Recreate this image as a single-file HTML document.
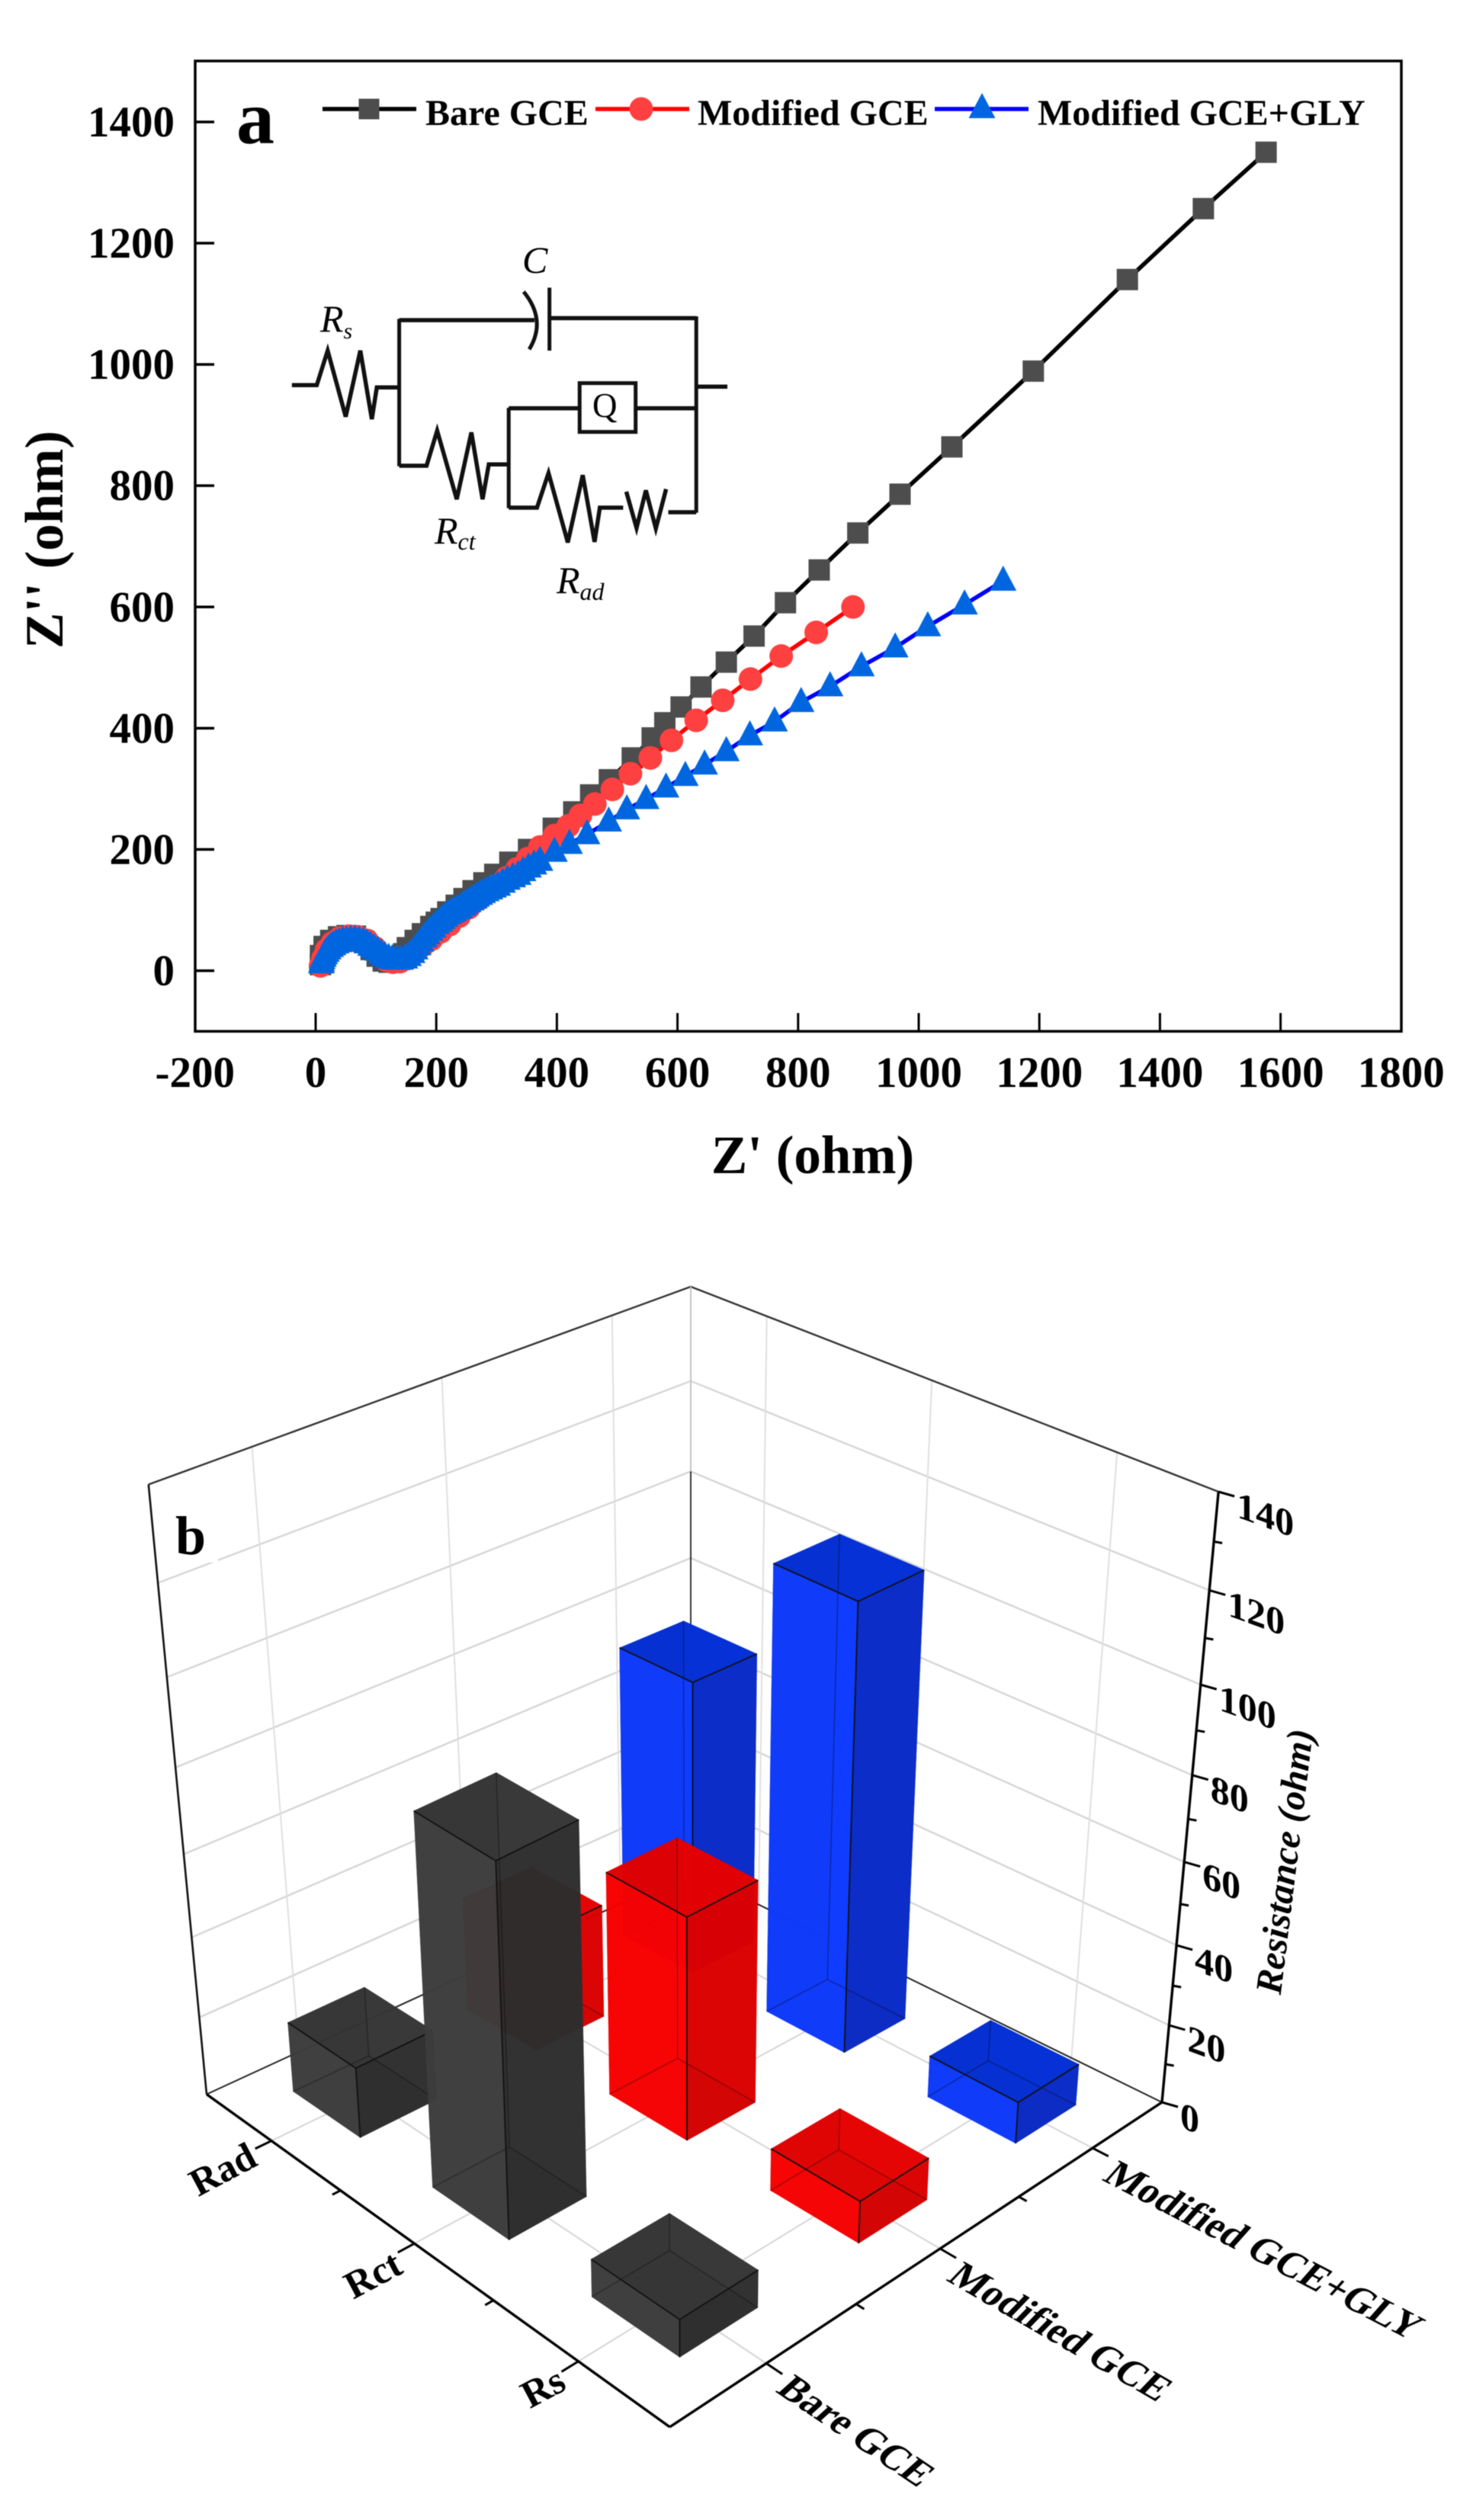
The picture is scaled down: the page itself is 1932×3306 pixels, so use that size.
<!DOCTYPE html>
<html lang="en">
<head>
<meta charset="utf-8">
<title>Nyquist plot and 3D resistance bars</title>
<style>
html,body{margin:0;padding:0;background:#fff}
svg{display:block;filter:blur(0.6px)}
text{font-family:"Liberation Serif",serif;fill:#000}
</style>
</head>
<body>
<svg id="chart" xmlns="http://www.w3.org/2000/svg" width="1932" height="3306" viewBox="0 0 1932 3306">
  <rect width="1932" height="3306" fill="#fff"/>
  <g id="panelA">
    <g id="aSeries"></g>
    <rect x="256" y="80" width="1582" height="1273" fill="none" stroke="#000" stroke-width="3.5"/>
    <g id="aTicks"></g>
    <text x="1066" y="1539" font-size="71" font-weight="bold" text-anchor="middle">Z' (ohm)</text>
    <text transform="translate(82,708) rotate(-90)" font-size="71" font-weight="bold" text-anchor="middle">Z'' (ohm)</text>
    <text x="310" y="188" font-size="100" font-weight="bold">a</text>
    <g>
      <g>
        <line x1="423" y1="143" x2="546" y2="143" stroke="#000" stroke-width="5.5"/>
        <rect x="470.500" y="129.500" width="27" height="27" fill="#4d4d4d"/>
        <text x="558" y="164" font-size="48" font-weight="bold">Bare GCE</text>
      </g>
      <g>
        <line x1="781" y1="143" x2="904" y2="143" stroke="#f00" stroke-width="5.5"/>
        <circle cx="841" cy="143" r="15.500" fill="#ff4040"/>
        <text x="915" y="164" font-size="48" font-weight="bold">Modified GCE</text>
      </g>
      <g>
        <line x1="1226" y1="143" x2="1349" y2="143" stroke="#00f" stroke-width="5.5"/>
        <polygon points="1288,122 1305.500,155 1270.500,155" fill="#0066e0"/>
        <text x="1361" y="164" font-size="48" font-weight="bold">Modified GCE+GLY</text>
      </g>
    </g>
    <g>
      <g transform="translate(340,280) scale(0.408,0.3333)" fill="none" stroke="#111">
        <path vector-effect="non-scaling-stroke" stroke-width="5.5" d="M105,676 H185 L220,540 L278,800 L325,540 L362,810 L378,685 H450"/>
        <path vector-effect="non-scaling-stroke" stroke-width="5" d="M450,415 V995"/>
        <path vector-effect="non-scaling-stroke" stroke-width="5.5" d="M450,420 H885"/>
        <path vector-effect="non-scaling-stroke" stroke-width="5" d="M850,308 Q925,420 868,535"/>
        <path vector-effect="non-scaling-stroke" stroke-width="5" d="M933,292 V540"/>
        <path vector-effect="non-scaling-stroke" stroke-width="5.5" d="M933,412 H1405"/>
        <path vector-effect="non-scaling-stroke" stroke-width="5" d="M1405,405 V1178"/>
        <path vector-effect="non-scaling-stroke" stroke-width="5.5" d="M1405,682 H1505"/>
        <path vector-effect="non-scaling-stroke" stroke-width="5.5" d="M450,993 H538 L572,855 L635,1125 L682,862 L718,1125 L738,988 H802"/>
        <path vector-effect="non-scaling-stroke" stroke-width="5" d="M802,765 V1160"/>
        <path vector-effect="non-scaling-stroke" stroke-width="5.5" d="M802,767 H1030"/>
        <rect vector-effect="non-scaling-stroke" stroke-width="5" x="1030" y="668" width="180" height="192"/>
        <path vector-effect="non-scaling-stroke" stroke-width="5.5" d="M1210,767 H1405"/>
        <path vector-effect="non-scaling-stroke" stroke-width="5.5" d="M802,1158 H893 L930,1022 L992,1295 L1040,1030 L1078,1293 L1095,1158 H1170"/>
        <path vector-effect="non-scaling-stroke" stroke-width="5.5" d="M1180,1095 L1213,1238 L1243,1090 L1275,1240 L1308,1085"/>
        <path vector-effect="non-scaling-stroke" stroke-width="5.5" d="M1315,1176 H1405"/>
      </g>
      <text x="685" y="358" font-size="50" font-style="italic">C</text>
      <text x="777" y="547" font-size="45">Q</text>
      <text x="420" y="435" font-size="50" font-style="italic">R<tspan font-size="30" dy="9">s</tspan></text>
      <text x="570" y="713" font-size="50" font-style="italic">R<tspan font-size="32" dy="8">ct</tspan></text>
      <text x="730" y="778" font-size="50" font-style="italic">R<tspan font-size="32" dy="9">ad</tspan></text>
    </g>
  </g>
  <g id="panelB">
    <g id="bWalls"></g>
    <rect x="228" y="1975" width="58" height="75" fill="#fff"/>
    <text x="230" y="2039" font-size="72" font-weight="bold">b</text>
    <g id="bBars"></g>
    <g id="bAxes"></g>
    <text transform="translate(1701,2444) rotate(-83)" font-size="49" font-weight="bold" font-style="italic" text-anchor="middle">Resistance (ohm)</text>
  </g>
</svg>
<script>
/* ---------- Panel a data ---------- */
const xTickLabels = [-200, 0, 200, 400, 600, 800, 1000, 1200, 1400, 1600, 1800];
const yTickLabels = [0, 200, 400, 600, 800, 1000, 1200, 1400];

const bareX = [8,8,14,25,38,52,66,80,92,102,112,122,134,146,152,165,177,191,200,208,219,233,246,261,279,297,322,353,394,428,456,487,525,558,579,606,639,681,727,779,835,899,969,1055,1190,1346,1472,1576];
const bareY = [10,25,40,50,56,58,57,48,35,24,16,14,18,28,38,50,61,73,80,86,97,108,119,132,145,159,179,200,235,262,290,315,351,384,409,435,468,509,552,607,661,722,786,864,989,1140,1257,1350];

const modifiedX = [8,12,18,28,40,55,70,85,98,108,118,128,140,152,165,178,192,207,222,238,254,270,286,300,316,334,352,372,396,419,439,463,492,522,555,590,631,675,721,772,830,891];
const modifiedY = [8,20,34,46,54,57,56,50,38,26,17,14,15,20,30,42,52,64,76,90,104,118,130,140,153,168,185,204,223,239,256,275,299,325,351,380,413,446,481,519,558,600];

const glyX = [9.5,10,11,13,15,18,21,25,29,34,39,45,51,58,65,72,79,85,91,97,103,109,115,121,127,134,141,148,154,160,165,170,175,180,185,190,195,201,206,210,215,220,225,229,234,239,244,248,253,258,263,267,272,277,283,289,295,302,310,318,327,336,344,353,362,372,396,421,450,486,516,548,581,613,645,681,720,761,805,853,905,961,1015,1076,1140];
const glyY = [12,15,19,23,27,31,35,39,42,45,47,49,50,51,51,50,48,45,41,37,33,28,24,21,19,18,18,20,24,29,35,42,48,55,60,66,71,77,81,85,89,93,96,98,101,103,107,110,113,116,119,122,125,128,131,134,137,140,145,150,154,158,164,170,175,181,196,209,225,246,266,283,302,321,340,362,388,411,443,469,502,533,568,604,643];

/* ---------- Panel b data ---------- */
const categories = ['Bare GCE', 'Modified GCE', 'Modified GCE+GLY'];
const resistances = ['Rs', 'Rct', 'Rad'];
const bareValues = [9.6, 90, 18];
const modifiedValues = [10.8, 55.7, 29];
const glyValues = [10.7, 108, 73];
const zTickLabels = [0, 20, 40, 60, 80, 100, 120, 140];

const SVGNS = 'http://www.w3.org/2000/svg';
function mk(tag, parent, attrs) {
  const el = document.createElementNS(SVGNS, tag);
  for (const k in attrs) el.setAttribute(k, attrs[k]);
  parent.appendChild(el);
  return el;
}

/* ---------- Panel a axes ---------- */
function ax(v) { return 414 + v * 0.791; }
function ay(v) { return 1273.5 - v * 0.7954; }

const aTicks = document.getElementById('aTicks');
xTickLabels.forEach(function (t) {
  const x = ax(t);
  if (t !== -200 && t !== 1800) {
    const l = mk('line', aTicks, { x1: x, x2: x, y1: 1353, y2: 1329, stroke: '#000', 'stroke-width': 3 });
    
    
  }
  const s = mk('text', aTicks, { x: x, y: 1426, 'font-size': 57, 'font-weight': 'bold', 'text-anchor': 'middle' });
  
  
  s.textContent = String(t);
});
yTickLabels.forEach(function (t) {
  const y = ay(t);
  const l = mk('line', aTicks, { x1: 256, x2: 281, y1: y, y2: y, stroke: '#000', 'stroke-width': 3.5 });
  
  
  const s = mk('text', aTicks, { x: 229, y: y + 19, 'font-size': 57, 'font-weight': 'bold', 'text-anchor': 'end' });
  
  
  s.textContent = String(t);
});

function drawLine(parent, xs, ys, color) {
  const pts = xs.map(function (v, i) { return ax(v) + ',' + ay(ys[i]); }).join(' ');
  return mk('polyline', parent, { points: pts, fill: 'none', stroke: color, 'stroke-width': 5.5, 'stroke-linejoin': 'round' });
}

const aSeries = document.getElementById('aSeries');

const bareGroup = mk('g', aSeries, {});


const bareLine = drawLine(bareGroup, bareX, bareY, '#000');


bareX.forEach(function (v, i) {
  const m = mk('rect', bareGroup, { x: ax(v) - 14, y: ay(bareY[i]) - 14, width: 28, height: 28, fill: '#4d4d4d' });
  
  
});

const modGroup = mk('g', aSeries, {});


const modLine = drawLine(modGroup, modifiedX, modifiedY, '#f00');


modifiedX.forEach(function (v, i) {
  const m = mk('circle', modGroup, { cx: ax(v), cy: ay(modifiedY[i]), r: 15.5, fill: '#ff4040' });
  
  
});

const glyGroup = mk('g', aSeries, {});


const glyLine = drawLine(glyGroup, glyX, glyY, '#00f');


glyX.forEach(function (v, i) {
  const x = ax(v), y = ay(glyY[i]);
  const m = mk('polygon', glyGroup, { points: x + ',' + (y - 20) + ' ' + (x + 17.5) + ',' + (y + 13) + ' ' + (x - 17.5) + ',' + (y + 13), fill: '#0066e0' });
  
  
});

/* ---------- Panel b projection ---------- */
const F = [878.5, 3184], R = [1524, 2758], B = [906, 2455], L = [271, 2747.5];
const dx1 = R[0] - B[0], dx2 = L[0] - B[0], sx = F[0] - R[0] + B[0] - L[0];
const dy1 = R[1] - B[1], dy2 = L[1] - B[1], sy = F[1] - R[1] + B[1] - L[1];
const det = dx1 * dy2 - dx2 * dy1;
const hg = (sx * dy2 - dx2 * sy) / det;
const hh = (dx1 * sy - sx * dy1) / det;
function floorPt(u, v) {
  const w = 1 + hg * u + hh * v;
  return [
    ((R[0] - F[0] + hg * R[0]) * u + (L[0] - F[0] + hh * L[0]) * v + F[0]) / w,
    ((R[1] - F[1] + hg * R[1]) * u + (L[1] - F[1] + hh * L[1]) * v + F[1]) / w
  ];
}
function zFrac(z) {
  const q = z / 140;
  return q / (1 + 0.155 * (1 - q));
}
function proj(u, v, z) {
  const p = floorPt(u, v);
  const f = zFrac(z);
  const k = 834 - 33 * u - 34 * v;
  return [p[0] + (p[0] - 906) * 0.12 * f, p[1] - k * f];
}
function segment(parent, a, b, color, width) {
  return mk('line', parent, { x1: a[0], y1: a[1], x2: b[0], y2: b[1], stroke: color, 'stroke-width': width });
}
function poly(parent, pts, fill, opacity) {
  return mk('polygon', parent, { points: pts.map(function (p) { return p[0] + ',' + p[1]; }).join(' '), fill: fill, 'fill-opacity': opacity });
}

/* Walls and grid */
const bWalls = document.getElementById('bWalls');
const gridPos = resistances.map(function (_, i) { return (i + 0.5) / resistances.length; });
zTickLabels.forEach(function (z) {
  if (z === 0 || z === 140) return;
  const a = segment(bWalls, proj(0, 1, z), proj(1, 1, z), '#d6d6d6', 2.4);
  
  
  const b = segment(bWalls, proj(1, 1, z), proj(1, 0, z), '#d6d6d6', 2.4);
  
  
});
gridPos.forEach(function (g) {
  const a = segment(bWalls, proj(g, 1, 0), proj(g, 1, 140), '#e0e0e0', 2);
  
  
  const b = segment(bWalls, proj(1, g, 0), proj(1, g, 140), '#e0e0e0', 2);
  
  
  const c = segment(bWalls, proj(g, 0, 0), proj(g, 1, 0), '#d6d6d6', 2);
  
  
  const d = segment(bWalls, proj(0, g, 0), proj(1, g, 0), '#d6d6d6', 2);
  
  
});
const topLeft = segment(bWalls, proj(0, 1, 140), proj(1, 1, 140), '#333', 2.4);


const topRight = segment(bWalls, proj(1, 1, 140), proj(1, 0, 140), '#333', 2.4);


const backUpper = segment(bWalls, proj(1, 1, 100), proj(1, 1, 140), '#c4c4c4', 2);


const backLower = segment(bWalls, proj(1, 1, 0), proj(1, 1, 100), '#222', 1.8);


const leftEdge = segment(bWalls, proj(0, 1, 0), proj(0, 1, 140), '#111', 2.6);


const floorBackL = segment(bWalls, proj(0, 1, 0), proj(1, 1, 0), '#222', 2);


const floorBackR = segment(bWalls, proj(1, 1, 0), proj(1, 0, 0), '#222', 2);



/* Bars */
const seriesValues = [bareValues, modifiedValues, glyValues];
const seriesSlugs = ['bare-gce', 'modified-gce', 'modified-gce-gly'];
const shades = [
  { left: '#3e3e3e', right: '#2c2c2c', top: '#343434', backL: '#2e2e2e', backR: '#383838', bottom: '#262626', op: 0.85 },
  { left: '#ff0000', right: '#d80000', top: '#e40000', backL: '#b80000', backR: '#f00000', bottom: '#a80000', op: 0.86 },
  { left: '#0f3cff', right: '#0c2bc4', top: '#0430d4', backL: '#0a24b0', backR: '#0038e8', bottom: '#0a26a8', op: 0.92 }
];
function drawBar(i, j, value) {
  const du = 0.07, dv = 0.083;
  const uc = (i + 0.5) / categories.length, vc = (j + 0.5) / resistances.length;
  const u0 = uc - du, u1 = uc + du, v0 = vc - dv, v1 = vc + dv;
  const s = shades[i];
  const g = mk('g', document.getElementById('bBars'), {});
  
  
  const b00 = proj(u0, v0, 0), b10 = proj(u1, v0, 0), b01 = proj(u0, v1, 0), b11 = proj(u1, v1, 0);
  const t00 = proj(u0, v0, value), t10 = proj(u1, v0, value), t01 = proj(u0, v1, value), t11 = proj(u1, v1, value);
  poly(g, [b00, b10, b11, b01], s.bottom, s.op);
  poly(g, [b01, b11, t11, t01], s.backL, s.op);
  poly(g, [b10, b11, t11, t10], s.backR, s.op);
  poly(g, [b00, b01, t01, t00], s.left, s.op);
  poly(g, [b00, b10, t10, t00], s.right, s.op);
  poly(g, [t00, t10, t11, t01], s.top, s.op);
  segment(g, b11, t11, 'rgba(0,0,0,0.35)', 1.4);
  segment(g, b01, b11, 'rgba(0,0,0,0.35)', 1.4);
  segment(g, b10, b11, 'rgba(0,0,0,0.35)', 1.4);
  segment(g, b00, t00, '#111', 1.8);
  segment(g, t00, t01, '#111', 1.8);
  segment(g, t00, t10, '#111', 1.8);
}
const drawOrder = [];
categories.forEach(function (_, i) {
  resistances.forEach(function (_, j) { drawOrder.push([i, j]); });
});
drawOrder.sort(function (a, b) { return (b[0] + b[1]) - (a[0] + a[1]) || a[0] - b[0]; });
drawOrder.forEach(function (p) { drawBar(p[0], p[1], seriesValues[p[0]][p[1]]); });

/* 3D axes */
const bAxes = document.getElementById('bAxes');
const axisU = segment(bAxes, proj(0, 0, 0), proj(1, 0, 0), '#000', 3.4);


const axisV = segment(bAxes, proj(0, 0, 0), proj(0, 1, 0), '#000', 3.4);


const axisZ = segment(bAxes, proj(1, 0, 0), proj(1, 0, 140), '#000', 3.4);



const catLabelCenter = [[1121, 3191], [1389, 3061], [1656, 2954]];
const catLabelAngle = [34, 30, 27.5];
categories.forEach(function (c, i) {
  const u = (i + 0.5) / categories.length;
  const t = segment(bAxes, floorPt(u, 0), floorPt(u, -0.028), '#000', 3);
  
  
  if (i < categories.length - 1) {
    const m = segment(bAxes, floorPt((i + 1) / categories.length, 0), floorPt((i + 1) / categories.length, -0.014), '#000', 3);
    
    
  }
  const s = mk('text', bAxes, { 'font-size': 51, 'font-weight': 'bold', 'text-anchor': 'middle', transform: 'translate(' + catLabelCenter[i][0] + ',' + catLabelCenter[i][1] + ') rotate(' + catLabelAngle[i] + ') skewX(-14) translate(0,14)' });
  
  
  s.textContent = c;
});
const resLabelCenter = [[720, 3133], [497, 2985], [300, 2847]];
resistances.forEach(function (c, j) {
  const v = (j + 0.5) / resistances.length;
  const t = segment(bAxes, floorPt(0, v), floorPt(-0.028, v), '#000', 3);
  
  
  if (j < resistances.length - 1) {
    const m = segment(bAxes, floorPt(0, (j + 1) / resistances.length), floorPt(-0.014, (j + 1) / resistances.length), '#000', 3);
    
    
  }
  const s = mk('text', bAxes, { 'font-size': 51, 'font-weight': 'bold', 'text-anchor': 'middle', transform: 'translate(' + resLabelCenter[j][0] + ',' + (resLabelCenter[j][1] + 14) + ') rotate(-28)' });
  
  
  s.textContent = c;
});
zTickLabels.forEach(function (z, n) {
  const p = proj(1, 0, z);
  const t = segment(bAxes, p, [p[0] + 21, p[1] + 6], '#000', 3);
  
  
  if (n < zTickLabels.length - 1) {
    const pm = proj(1, 0, z + 10);
    const m = segment(bAxes, pm, [pm[0] + 11, pm[1] + 2], '#000', 3);
    
    
  }
  const s = mk('text', bAxes, { 'font-size': 50, 'font-weight': 'bold', transform: 'translate(' + (p[0] + 24) + ',' + (p[1] + 33) + ') skewY(20)' });
  
  
  s.textContent = String(z);
});
</script>
</body>
</html>
